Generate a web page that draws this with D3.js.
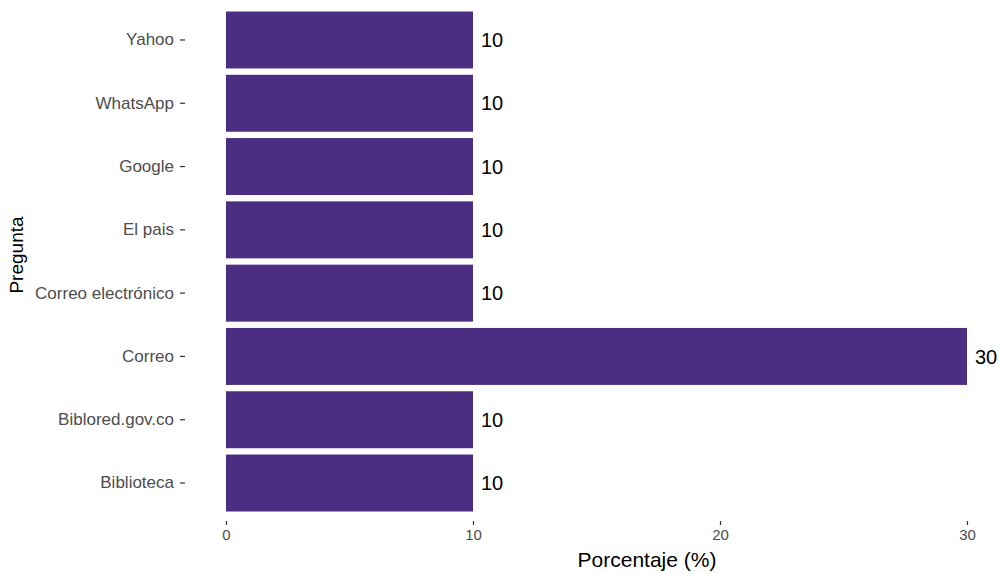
<!DOCTYPE html>
<html><head><meta charset="utf-8">
<script src="https://cdn.jsdelivr.net/npm/d3@7"></script>
<style>body{margin:0;background:#fff}svg{display:block}text{font-family:"Liberation Sans",Arial,sans-serif}</style>
</head><body>
<svg id="c" width="1003" height="574"></svg>
<script>
const categories = ["Yahoo","WhatsApp","Google","El pais","Correo electrónico","Correo","Biblored.gov.co","Biblioteca"];
const values = [10,10,10,10,10,30,10,10];
const xTicks = [0,10,20,30];

const svg = d3.select("#c");
const tickX = 185, panelTop = 2, panelBottom = 521;
const x = d3.scaleLinear().domain([0,30]).range([226,967]);
const y = d3.scaleBand().domain(categories).range([panelTop,panelBottom]).paddingInner(0.1).paddingOuter(0.15);
const data = categories.map((c,i)=>({c, v: values[i]}));
const ff = "'Liberation Sans',Arial,sans-serif";

svg.selectAll("rect.bar").data(data).join("rect").attr("class","bar")
  .attr("x", x(0)).attr("y", d=>y(d.c)).attr("width", d=>x(d.v)-x(0)).attr("height", y.bandwidth())
  .attr("fill","#4b2e82");

svg.selectAll("text.val").data(data).join("text").attr("class","val")
  .attr("x", d=>x(d.v)+8).attr("y", d=>y(d.c)+y.bandwidth()/2).attr("dy","0.36em")
  .attr("font-size",20).attr("fill","#000").text(d=>d.v);

// x axis
const xa = svg.append("g").attr("transform",`translate(0,${panelBottom})`)
  .call(d3.axisBottom(x).tickValues(xTicks).tickSize(4).tickPadding(4));
xa.select(".domain").remove();
xa.selectAll("line").attr("stroke","#333").attr("stroke-width",1.2);
xa.selectAll("text").attr("font-size",15).attr("fill","#4d4d4d").style("font-family",ff);

// y axis
const ya = svg.append("g").attr("transform",`translate(${tickX},0)`)
  .call(d3.axisLeft(y).tickSize(5).tickPadding(6));
ya.select(".domain").remove();
ya.selectAll("line").attr("stroke","#333").attr("stroke-width",1.2);
ya.selectAll("text").attr("font-size",17).attr("fill","#4d4d4d").style("font-family",ff);

svg.append("text").attr("x",647).attr("y",567).attr("text-anchor","middle")
  .attr("font-size",21).attr("fill","#000").text("Porcentaje (%)");
svg.append("text").attr("transform",`translate(23,255) rotate(-90)`)
  .attr("text-anchor","middle").attr("font-size",19).attr("fill","#000").text("Pregunta");
</script>
</body></html>
